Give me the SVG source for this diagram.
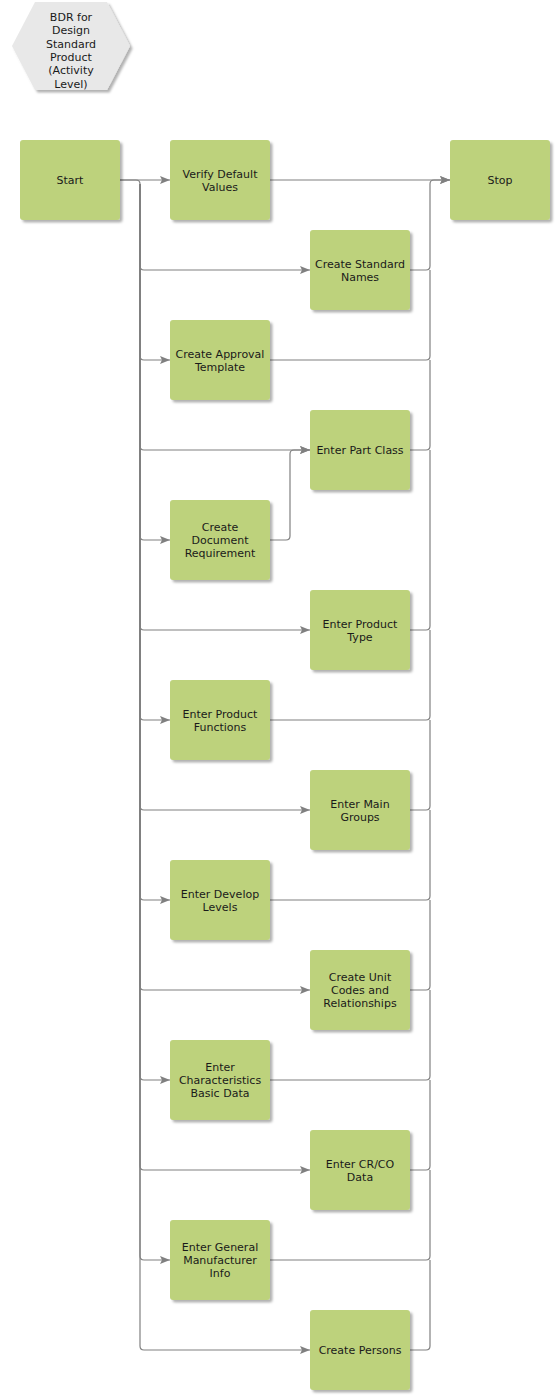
<svg xmlns="http://www.w3.org/2000/svg" width="560" height="1400" viewBox="0 0 560 1400">
<style>
.n rect{fill:#bdd27c;filter:url(#sh)}
.n text,.h text{font-family:"DejaVu Sans",Verdana,sans-serif;font-size:11px;fill:#1a1a1a;text-anchor:middle}
.c path{fill:none;stroke:#808080;stroke-width:1.2}
.a{marker-end:url(#ar)}
</style>
<defs>
<filter id="sh" x="-10%" y="-10%" width="130%" height="130%">
<feDropShadow dx="2.5" dy="2.5" stdDeviation="1.2" flood-color="#000" flood-opacity="0.3"/>
</filter>
<marker id="ar" viewBox="0 0 10 10" refX="10" refY="5" markerWidth="10" markerHeight="10" markerUnits="userSpaceOnUse" orient="auto">
<path d="M0,1 L10,5 L0,9 L2,5 Z" fill="#808080"/>
</marker>
</defs>
<g id="title" class="h">
<polygon points="12,46 35,2 107,2 130,46 107,90 35,90" fill="#e8e8e8" filter="url(#sh)"/>
<text x="71" y="21">BDR for</text>
<text x="71" y="34">Design</text>
<text x="71" y="48">Standard</text>
<text x="71" y="61">Product</text>
<text x="71" y="74">(Activity</text>
<text x="71" y="88">Level)</text>
</g>
<g id="connectors" class="c">
<path class="a" d="M120,180 H170"/>
<path class="a" d="M120,180 H136 q4,0 4,4 V266 q0,4 4,4 H310"/>
<path class="a" d="M140,184 V356 q0,4 4,4 H170"/>
<path class="a" d="M140,184 V446 q0,4 4,4 H310"/>
<path class="a" d="M140,184 V536 q0,4 4,4 H170"/>
<path class="a" d="M140,184 V626 q0,4 4,4 H310"/>
<path class="a" d="M140,184 V716 q0,4 4,4 H170"/>
<path class="a" d="M140,184 V806 q0,4 4,4 H310"/>
<path class="a" d="M140,184 V896 q0,4 4,4 H170"/>
<path class="a" d="M140,184 V986 q0,4 4,4 H310"/>
<path class="a" d="M140,184 V1076 q0,4 4,4 H170"/>
<path class="a" d="M140,184 V1166 q0,4 4,4 H310"/>
<path class="a" d="M140,184 V1256 q0,4 4,4 H170"/>
<path class="a" d="M140,184 V1346 q0,4 4,4 H310"/>
<path class="a" d="M270,540 H286 q4,0 4,-4 V454 q0,-4 4,-4 H310"/>
<path class="a" d="M270,180 H450"/>
<path class="a" d="M410,270 H426 q4,0 4,-4 V184 q0,-4 4,-4 H450"/>
<path d="M270,360 H426 q4,0 4,-4 V270"/>
<path d="M410,450 H426 q4,0 4,-4 V360"/>
<path d="M410,630 H426 q4,0 4,-4 V450"/>
<path d="M270,720 H426 q4,0 4,-4 V630"/>
<path d="M410,810 H426 q4,0 4,-4 V720"/>
<path d="M270,900 H426 q4,0 4,-4 V810"/>
<path d="M410,990 H426 q4,0 4,-4 V900"/>
<path d="M270,1080 H426 q4,0 4,-4 V990"/>
<path d="M410,1170 H426 q4,0 4,-4 V1080"/>
<path d="M270,1260 H426 q4,0 4,-4 V1170"/>
<path d="M410,1350 H426 q4,0 4,-4 V1260"/>
</g>
<g id="start" class="n"><rect x="20" y="140" width="100" height="80" rx="3"/><text x="70" y="184">Start</text></g>
<g id="verify" class="n"><rect x="170" y="140" width="100" height="80" rx="3"/><text x="220" y="178">Verify Default</text><text x="220" y="191">Values</text></g>
<g id="stop" class="n"><rect x="450" y="140" width="100" height="80" rx="3"/><text x="500" y="184">Stop</text></g>
<g id="names" class="n"><rect x="310" y="230" width="100" height="80" rx="3"/><text x="360" y="268">Create Standard</text><text x="360" y="281">Names</text></g>
<g id="approval" class="n"><rect x="170" y="320" width="100" height="80" rx="3"/><text x="220" y="358">Create Approval</text><text x="220" y="371">Template</text></g>
<g id="partclass" class="n"><rect x="310" y="410" width="100" height="80" rx="3"/><text x="360" y="454">Enter Part Class</text></g>
<g id="docreq" class="n"><rect x="170" y="500" width="100" height="80" rx="3"/><text x="220" y="531">Create</text><text x="220" y="544">Document</text><text x="220" y="557">Requirement</text></g>
<g id="prodtype" class="n"><rect x="310" y="590" width="100" height="80" rx="3"/><text x="360" y="628">Enter Product</text><text x="360" y="641">Type</text></g>
<g id="prodfunc" class="n"><rect x="170" y="680" width="100" height="80" rx="3"/><text x="220" y="718">Enter Product</text><text x="220" y="731">Functions</text></g>
<g id="maingroups" class="n"><rect x="310" y="770" width="100" height="80" rx="3"/><text x="360" y="808">Enter Main</text><text x="360" y="821">Groups</text></g>
<g id="develop" class="n"><rect x="170" y="860" width="100" height="80" rx="3"/><text x="220" y="898">Enter Develop</text><text x="220" y="911">Levels</text></g>
<g id="unitcodes" class="n"><rect x="310" y="950" width="100" height="80" rx="3"/><text x="360" y="981">Create Unit</text><text x="360" y="994">Codes and</text><text x="360" y="1007">Relationships</text></g>
<g id="charact" class="n"><rect x="170" y="1040" width="100" height="80" rx="3"/><text x="220" y="1071">Enter</text><text x="220" y="1084">Characteristics</text><text x="220" y="1097">Basic Data</text></g>
<g id="crco" class="n"><rect x="310" y="1130" width="100" height="80" rx="3"/><text x="360" y="1168">Enter CR/CO</text><text x="360" y="1181">Data</text></g>
<g id="manuf" class="n"><rect x="170" y="1220" width="100" height="80" rx="3"/><text x="220" y="1251">Enter General</text><text x="220" y="1264">Manufacturer</text><text x="220" y="1277">Info</text></g>
<g id="persons" class="n"><rect x="310" y="1310" width="100" height="80" rx="3"/><text x="360" y="1354">Create Persons</text></g>
</svg>
